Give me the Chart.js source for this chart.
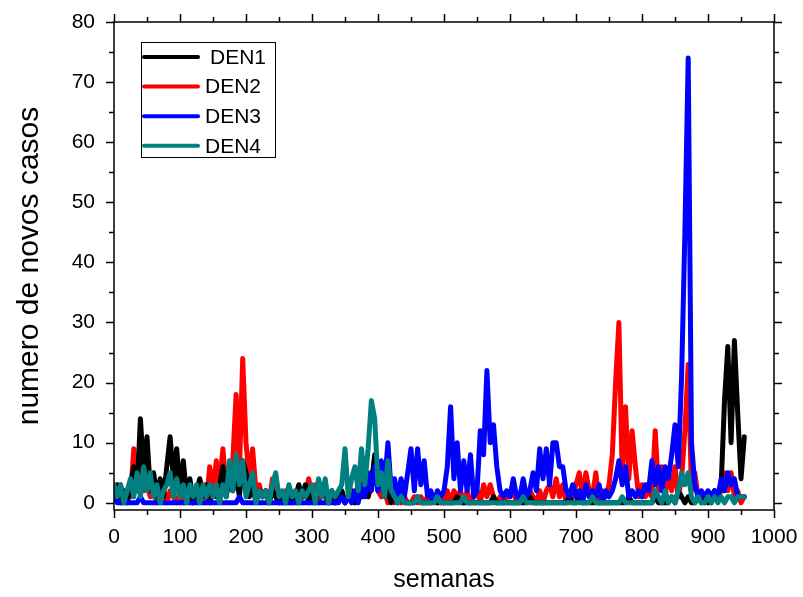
<!DOCTYPE html>
<html>
<head>
<meta charset="utf-8">
<title>DEN</title>
<script src="https://cdn.jsdelivr.net/npm/chart.js@4.4.1/dist/chart.umd.min.js"></script>
<style>
  html, body { margin: 0; padding: 0; background: #fff; }
  #wrap { width: 803px; height: 597px; }
</style>
</head>
<body>
<div id="wrap"><canvas id="myChart" width="803" height="597"></canvas></div>
<script>
const seriesNames = ["DEN1", "DEN2", "DEN3", "DEN4"];
const seriesColors = ["#000000", "#ff0000", "#0000ff", "#008080"];
const xTicks = [0, 100, 200, 300, 400, 500, 600, 700, 800, 900, 1000];
const yTicks = [0, 10, 20, 30, 40, 50, 60, 70, 80];

// weekly counts, one value every 5 weeks (week 0 .. 955)
const den1 = [
    1, 3, 0, 2, 0, 3, 6, 2, 14, 5,
    11, 2, 5, 1, 4, 1, 6, 11, 4, 9,
    2, 7, 1, 4, 0, 2, 4, 1, 3, 0,
    2, 1, 3, 6, 1, 4, 2, 5, 1, 7,
    5, 1, 3, 0, 2, 1, 2, 0, 2, 1,
    0, 1, 0, 2, 0, 1, 3, 1, 3, 0,
    2, 0, 3, 1, 2, 0, 2, 0, 1, 2,
    0, 1, 2, 0, 3, 1, 4, 1, 3, 8,
    2, 6, 1, 2, 0, 1, 0, 1, 0, 0,
    0, 0, 1, 0, 0, 0, 0, 1, 0, 0,
    0, 0, 0, 0, 1, 0, 0, 0, 0, 0,
    0, 0, 0, 0, 0, 1, 0, 0, 0, 0,
    0, 0, 0, 0, 0, 0, 1, 0, 0, 0,
    0, 0, 0, 0, 0, 0, 0, 0, 1, 0,
    0, 1, 0, 0, 0, 0, 0, 0, 0, 0,
    0, 0, 0, 0, 0, 0, 1, 0, 0, 0,
    0, 0, 0, 0, 1, 0, 0, 0, 0, 1,
    0, 2, 1, 0, 1, 0, 0, 1, 0, 1,
    0, 1, 2, 1, 3, 17, 26, 10, 27, 15,
    4, 11
];
const den2 = [
    3, 1, 3, 0, 2, 1, 9, 3, 8, 2,
    3, 1, 2, 0, 1, 2, 0, 2, 1, 0,
    2, 0, 2, 1, 0, 2, 1, 3, 0, 6,
    2, 7, 3, 9, 2, 4, 7, 18, 5, 24,
    10, 4, 9, 2, 3, 1, 2, 0, 4, 1,
    1, 0, 2, 0, 1, 2, 0, 1, 1, 4,
    1, 3, 0, 2, 1, 0, 1, 0, 1, 2,
    0, 1, 2, 0, 3, 1, 5, 1, 4, 7,
    2, 1, 2, 0, 1, 0, 1, 0, 1, 0,
    0, 1, 0, 1, 0, 1, 0, 1, 0, 1,
    0, 2, 0, 2, 1, 2, 0, 2, 0, 1,
    2, 0, 3, 1, 3, 1, 0, 1, 0, 1,
    1, 2, 0, 1, 2, 0, 2, 1, 0, 2,
    0, 2, 3, 1, 4, 1, 3, 0, 2, 1,
    3, 5, 1, 5, 2, 1, 5, 0, 2, 1,
    3, 8, 20, 30, 5, 16, 4, 12, 6, 1,
    3, 1, 2, 1, 12, 2, 6, 1, 5, 2,
    6, 1, 4, 12, 23, 2, 5, 1, 1, 0,
    1, 0, 2, 1, 2, 5, 2, 5, 1, 2,
    0, 1
];
const den3 = [
    1, 0, 0, 0, 0, 0, 0, 0, 1, 0,
    0, 0, 0, 0, 0, 0, 0, 0, 0, 0,
    0, 0, 0, 0, 0, 0, 0, 0, 0, 0,
    0, 0, 0, 0, 0, 0, 0, 0, 1, 0,
    0, 0, 0, 0, 0, 0, 0, 0, 0, 0,
    0, 0, 0, 0, 0, 0, 0, 0, 0, 0,
    0, 0, 0, 0, 0, 0, 0, 0, 0, 1,
    0, 1, 0, 2, 0, 3, 1, 5, 2, 6,
    2, 7, 3, 10, 2, 4, 1, 4, 1, 5,
    9, 2, 9, 3, 7, 1, 2, 0, 2, 1,
    2, 6, 16, 4, 10, 2, 7, 2, 8, 1,
    2, 12, 8, 22, 10, 13, 6, 2, 1, 2,
    1, 4, 1, 1, 4, 1, 2, 5, 2, 9,
    4, 9, 3, 10, 10, 6, 6, 2, 1, 3,
    1, 2, 0, 3, 1, 2, 1, 3, 0, 2,
    1, 2, 4, 7, 3, 6, 1, 2, 1, 2,
    1, 3, 2, 7, 3, 6, 2, 6, 4, 8,
    13, 6, 21, 45, 74, 10, 3, 1, 2, 1,
    2, 1, 2, 1, 4, 2, 5, 3, 4, 1,
    1, 1
];
const den4 = [
    3, 1, 3, 0, 2, 4, 1, 5, 1, 6,
    2, 5, 1, 3, 0, 2, 3, 5, 1, 4,
    1, 3, 0, 3, 1, 3, 0, 3, 1, 3,
    1, 3, 0, 3, 1, 7, 2, 8, 3, 7,
    1, 3, 5, 0, 2, 1, 2, 0, 3, 5,
    1, 2, 0, 3, 1, 2, 0, 2, 1, 2,
    3, 0, 4, 1, 4, 0, 2, 1, 2, 3,
    9, 1, 4, 6, 2, 9, 3, 9, 17, 14,
    3, 5, 1, 7, 2, 1, 0, 1, 0, 0,
    0, 0, 1, 0, 0, 0, 0, 0, 1, 0,
    0, 0, 0, 0, 0, 0, 1, 0, 0, 0,
    0, 0, 0, 0, 0, 0, 0, 0, 0, 0,
    0, 0, 0, 0, 1, 0, 0, 0, 0, 0,
    0, 0, 0, 0, 0, 0, 0, 0, 0, 0,
    0, 0, 0, 0, 0, 1, 0, 0, 0, 0,
    0, 0, 0, 0, 1, 0, 0, 0, 0, 0,
    0, 0, 0, 0, 2, 1, 0, 2, 0, 1,
    0, 2, 5, 3, 5, 1, 0, 1, 0, 0,
    1, 0, 1, 0, 1, 0, 1, 1, 0, 1,
    1, 1
];
const weeks = den1.map((v, i) => i * 5);

const fontFamily = "Arial, 'Liberation Sans', sans-serif";

// frame, outward ticks (major + minor) and the boxed legend, Origin style
const frameAndLegend = {
    id: "frameAndLegend",
    afterDraw(chart) {
        const { ctx, chartArea: a, scales } = chart;
        const x = scales.x, y = scales.y;
        ctx.save();
        ctx.strokeStyle = "#000";
        ctx.lineWidth = 1.5;
        ctx.strokeRect(a.left, a.top, a.right - a.left, a.bottom - a.top);

        ctx.beginPath();
        for (let v = 0; v <= 1000; v += 50) {
            const px = Math.round(x.getPixelForValue(v)) + 0.5;
            const len = v % 100 === 0 ? 8 : 5;
            ctx.moveTo(px, a.bottom); ctx.lineTo(px, a.bottom + len);
            ctx.moveTo(px, a.top); ctx.lineTo(px, a.top - len);
        }
        for (let v = 0; v <= 80; v += 5) {
            const py = Math.round(y.getPixelForValue(v)) + 0.5;
            const len = v % 10 === 0 ? 8 : 5;
            ctx.moveTo(a.left, py); ctx.lineTo(a.left - len, py);
            ctx.moveTo(a.right, py); ctx.lineTo(a.right + len, py);
        }
        ctx.stroke();

        // legend box
        ctx.lineWidth = 1;
        ctx.strokeRect(141.5, 42.5, 134, 115);
        ctx.font = "21px " + fontFamily;
        ctx.textBaseline = "middle";
        ctx.textAlign = "left";
        chart.data.datasets.forEach((ds, i) => {
            const ly = 57 + i * 29.6;
            ctx.strokeStyle = ds.borderColor;
            ctx.lineWidth = 4;
            ctx.lineCap = "round";
            ctx.beginPath();
            ctx.moveTo(144, ly);
            ctx.lineTo(198, ly);
            ctx.stroke();
            ctx.fillStyle = "#000";
            ctx.fillText(ds.label, i === 0 ? 210 : 205, ly + 1);
        });
        ctx.restore();
    }
};

const ctx = document.getElementById("myChart").getContext("2d");

const myChart = new Chart(ctx, {
    type: "line",
    data: {
        datasets: seriesNames.map((name, i) => ({
            label: name,
            data: weeks.map((w, k) => ({ x: w, y: [den1, den2, den3, den4][i][k] })),
            borderColor: seriesColors[i],
            backgroundColor: seriesColors[i],
            borderWidth: 5,
            borderJoinStyle: "round",
            borderCapStyle: "round",
            pointRadius: 0,
            tension: 0,
            fill: false,
            // red at the bottom, then black, blue, teal on top
            order: [3, 4, 2, 1][i]
        }))
    },
    options: {
        responsive: false,
        animation: false,
        layout: { padding: { top: 22, right: 29, left: 0, bottom: 0 } },
        scales: {
            x: {
                type: "linear",
                min: 0,
                max: 1000,
                afterBuildTicks: axis => { axis.ticks = xTicks.map(v => ({ value: v })); },
                afterFit: axis => { axis.height = 87; axis.paddingLeft = 0; axis.paddingRight = 0; },
                grid: { display: false },
                border: { display: false },
                ticks: { color: "#000", font: { size: 21, family: fontFamily }, padding: 7, maxRotation: 0, callback: v => String(v) },
                title: { display: true, text: "semanas", color: "#000", font: { size: 25, family: fontFamily }, padding: { top: 0, bottom: 2 } }
            },
            y: {
                min: -1.2,
                max: 80,
                afterBuildTicks: axis => { axis.ticks = yTicks.map(v => ({ value: v })); },
                afterFit: axis => { axis.width = 114; axis.paddingTop = 0; axis.paddingBottom = 0; },
                grid: { display: false },
                border: { display: false },
                ticks: { color: "#000", font: { size: 21, family: fontFamily }, padding: 11, callback: v => String(v) },
                title: { display: true, text: "numero de novos casos", color: "#000", font: { size: 30, family: fontFamily }, padding: { top: 12, bottom: 0 } }
            }
        },
        plugins: {
            legend: { display: false },
            tooltip: { enabled: false }
        }
    },
    plugins: [frameAndLegend]
});
</script>
</body>
</html>
